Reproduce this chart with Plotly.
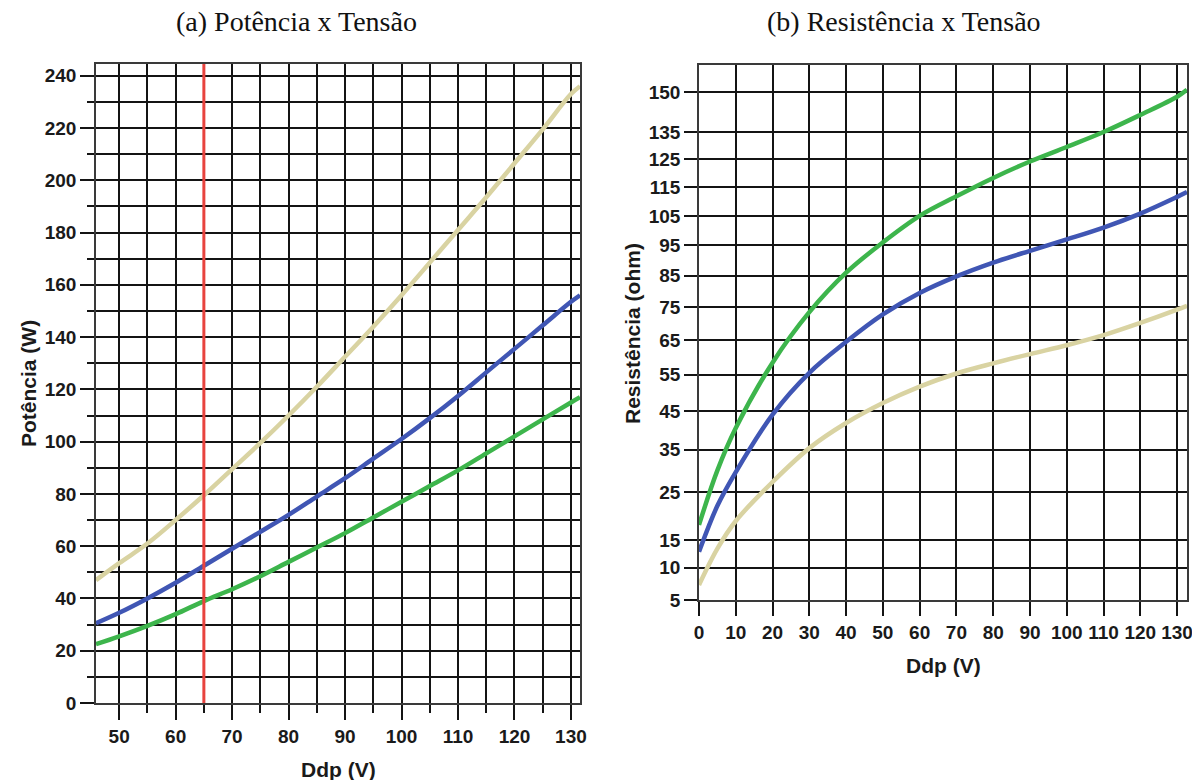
import plotly.graph_objects as go

# ---------------- data: (a) Potência x Tensão ----------------
V_a = [45.9, 50, 55, 60, 65, 70, 75, 80, 85, 90, 95, 100, 105, 110, 115, 120, 125, 130, 131.6]
P_beige = [47, 53.5, 61, 70, 79.5, 89.5, 99.5, 110, 121, 132.5, 144, 156, 168.5, 181, 193.5, 206.5, 219.5, 233, 236]
P_blue = [30.5, 34.5, 40, 46, 52.5, 59, 65.5, 72, 79, 86, 93.5, 101, 109, 117.5, 126.5, 135.5, 144.5, 153.5, 156]
P_green = [22.5, 25.5, 29.5, 34, 39, 43.5, 48.5, 54, 59.5, 65, 71, 77, 83, 89, 95.5, 102, 108.5, 115, 117]
V_marker = 65

# ---------------- data: (b) Resistência x Tensão ----------------
V_b = [0, 5, 10, 20, 30, 40, 50, 60, 70, 80, 90, 100, 110, 120, 130, 132.7]
R_green = [18, 30, 40.5, 58.4, 73.5, 86, 96, 105, 111.8, 118.3, 124.2, 129.5, 135, 141.4, 148.3, 151]
R_blue = [12.8, 22, 29.6, 44, 55.5, 64.5, 72.8, 79.5, 84.8, 89.3, 93.2, 97, 101, 105.8, 111.6, 113.3]
R_beige = [7.2, 13.4, 18.8, 27.3, 35.4, 41.8, 47.1, 51.6, 55.3, 58.2, 60.9, 63.5, 66.5, 70.2, 74.3, 75.5]
R_ticks = [5, 10, 15, 25, 35, 45, 55, 65, 75, 85, 95, 105, 115, 125, 135, 150]
R_EXP = 0.7  # power-scale exponent of the resistance axis

BEIGE = "#d9d3a2"
BLUE = "#4056b4"
GREEN = "#3db54c"
RED = "#e8433e"
GRID = "#141414"

W, H = 1192, 780


def px(x):
    return x / W


def py(y):
    return 1 - y / H


def pw(v):
    return v ** R_EXP


fig = go.Figure()
for ys, col in [(P_beige, BEIGE), (P_blue, BLUE), (P_green, GREEN)]:
    fig.add_trace(go.Scatter(x=V_a, y=ys, mode="lines", xaxis="x", yaxis="y",
                             line=dict(color=col, width=4.5, shape="spline"),
                             showlegend=False, hoverinfo="skip"))
for ys, col in [(R_beige, BEIGE), (R_blue, BLUE), (R_green, GREEN)]:
    fig.add_trace(go.Scatter(x=V_b, y=[pw(v) for v in ys], mode="lines", xaxis="x2", yaxis="y2",
                             line=dict(color=col, width=4.5, shape="spline"),
                             showlegend=False, hoverinfo="skip"))

fig.add_shape(type="line", xref="x", yref="y domain", x0=V_marker, x1=V_marker, y0=0, y1=1,
              line=dict(color=RED, width=3), layer="above")

tickfont = dict(family="Liberation Sans, Arial", size=19, color="#1a1a1a", weight="bold")
common = dict(showgrid=True, gridcolor=GRID, gridwidth=2, zeroline=False, automargin=False,
              ticks="outside", tickcolor=GRID, tickwidth=2, tickfont=tickfont,
              ticklabeloverflow="allow",
              showline=True, linecolor="#3a3a3a", linewidth=1.5, mirror=True)

fig.update_layout(
    template="none",
    width=W, height=H, margin=dict(l=0, r=0, t=0, b=0, pad=0),
    paper_bgcolor="white", plot_bgcolor="white",
    xaxis=dict(domain=[px(96), px(580)], range=[45.9, 131.6], anchor="y",
               tickmode="linear", tick0=0, dtick=10, ticklen=15,
               minor=dict(tick0=0, dtick=5, ticklen=8, tickwidth=2, tickcolor=GRID,
                          showgrid=True, gridcolor=GRID, gridwidth=2),
               **common),
    yaxis=dict(domain=[py(703), py(64)], range=[0, 244.5], anchor="x",
               tickmode="linear", tick0=0, dtick=20, ticklen=14,
               minor=dict(tick0=0, dtick=10, ticklen=7, tickwidth=2, tickcolor=GRID,
                          showgrid=True, gridcolor=GRID, gridwidth=2),
               **common),
    xaxis2=dict(domain=[px(699), px(1187)], range=[0, 132.7], anchor="y2",
                tickmode="linear", tick0=0, dtick=10, ticklen=14, **common),
    yaxis2=dict(domain=[py(600), py(65)], range=[pw(5), 34.99], anchor="x2",
                tickmode="array", tickvals=[pw(v) for v in R_ticks],
                ticktext=[str(v) for v in R_ticks], ticklen=13, **common),
)

title_font = dict(family="Liberation Serif, Times New Roman, serif", size=28, color="#111")
label_font = dict(family="Liberation Sans, Arial", size=21, color="#1a1a1a", weight="bold")
annots = [
    dict(text="(a) Potência x Tensão", x=px(296), y=py(21), font=title_font),
    dict(text="(b) Resistência x Tensão", x=px(904), y=py(21), font=title_font),
    dict(text="Ddp (V)", x=px(338), y=py(769), font=label_font),
    dict(text="Ddp (V)", x=px(943), y=py(665), font=label_font),
    dict(text="Potência (W)", x=px(28), y=py(384), font=label_font, textangle=-90),
    dict(text="Resistência (ohm)", x=px(632), y=py(334), font=label_font, textangle=-90),
]
for a in annots:
    fig.add_annotation(xref="paper", yref="paper", xanchor="center", yanchor="middle",
                       showarrow=False, **a)

fig.write_html("out.html", config={"displayModeBar": False},
               post_script="document.body.style.margin='0';document.body.style.overflow='hidden';")
